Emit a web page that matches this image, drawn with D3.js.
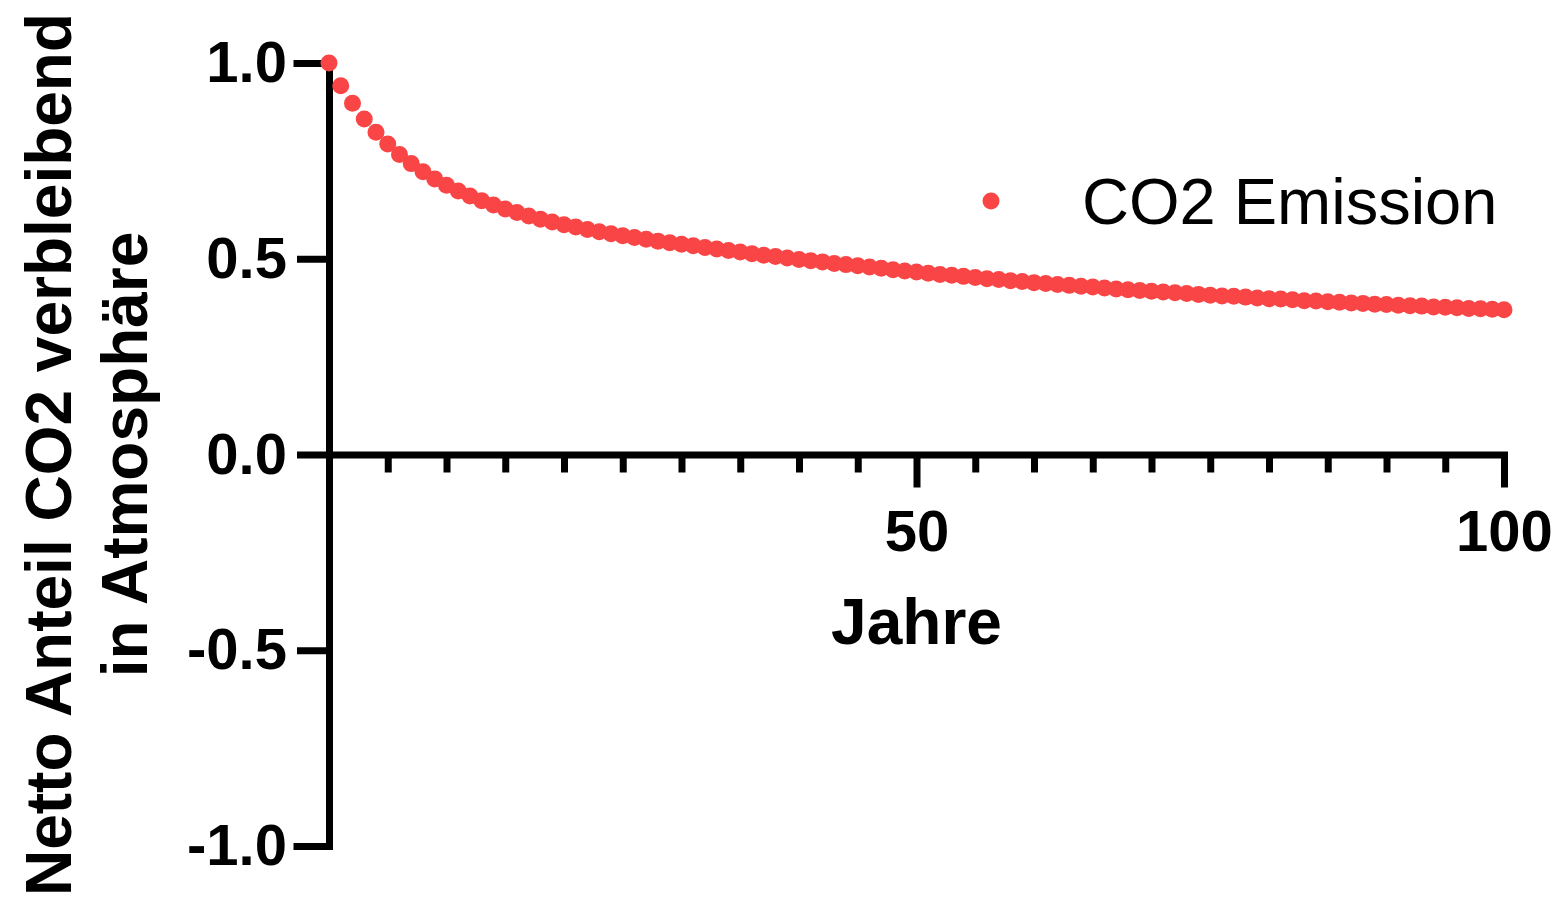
<!DOCTYPE html>
<html>
<head>
<meta charset="utf-8">
<script src="https://cdn.jsdelivr.net/npm/d3@7"></script>
<style>
  body { margin: 0; background: #fff; }
  text { font-family: "Liberation Sans", Arial, sans-serif; }
</style>
</head>
<body>
<div id="chart"></div>
<script>
// years 0..100 and the fraction of CO2 still in the atmosphere
const years = d3.range(0, 101);
const fraction = [
  1.000, 0.942, 0.897, 0.857, 0.823, 0.793, 0.766, 0.743, 0.722, 0.704,
  0.688, 0.673, 0.660, 0.648, 0.637, 0.627, 0.618, 0.609, 0.601, 0.594,
  0.587, 0.581, 0.575, 0.569, 0.564, 0.559, 0.554, 0.550, 0.545, 0.541,
  0.537, 0.533, 0.529, 0.525, 0.521, 0.517, 0.513, 0.509, 0.506, 0.502,
  0.498, 0.495, 0.492, 0.488, 0.485, 0.482, 0.479, 0.476, 0.472, 0.469,
  0.466, 0.463, 0.460, 0.458, 0.455, 0.452, 0.449, 0.447, 0.444, 0.442,
  0.439, 0.437, 0.434, 0.432, 0.430, 0.428, 0.425, 0.423, 0.421, 0.419,
  0.417, 0.415, 0.413, 0.411, 0.409, 0.407, 0.405, 0.404, 0.402, 0.400,
  0.398, 0.397, 0.395, 0.393, 0.392, 0.390, 0.389, 0.387, 0.386, 0.384,
  0.383, 0.381, 0.380, 0.379, 0.377, 0.376, 0.375, 0.373, 0.372, 0.371,
  0.370
];
const xTicks = d3.range(5, 101, 5);
const xLabeled = [50, 100];
const yTicks = [-1, -0.5, 0, 0.5, 1];
const seriesName = "CO2 Emission";
const xTitle = "Jahre";
const yTitle = ["Netto Anteil CO2 verbleibend", "in Atmosphäre"];

const data = years.map((t, i) => ({ t: t, v: fraction[i] }));

const W = 1568, H = 901;
const dotColor = "#F94545";
const axisWidth = 7;

const svg = d3.select("#chart")
  .append("svg")
  .attr("width", W)
  .attr("height", H);

const xScale = d3.scaleLinear().domain([0, 100]).range([329, 1504]);
const yScale = d3.scaleLinear().domain([-1, 1]).range([846, 63]);

// x axis sits on y = 0
const xAxis = svg.append("g")
  .attr("transform", `translate(0,${yScale(0)})`)
  .call(d3.axisBottom(xScale)
    .tickValues(xTicks)
    .tickSizeOuter(0)
    .tickSize(18)
    .tickFormat(d => xLabeled.includes(d) ? d : ""));

xAxis.selectAll(".tick line")
  .attr("y2", d => xLabeled.includes(d) ? 33 : 18);

xAxis.selectAll(".tick text")
  .attr("y", 55)
  .style("font-size", "58px")
  .style("font-weight", "bold");

// y axis
const yAxis = svg.append("g")
  .attr("transform", `translate(${xScale(0)},0)`)
  .call(d3.axisLeft(yScale)
    .tickValues(yTicks)
    .tickSizeOuter(0)
    .tickSize(32)
    .tickPadding(10)
    .tickFormat(d => d.toFixed(1)));

yAxis.selectAll(".tick text")
  .style("font-size", "58px")
  .style("font-weight", "bold");

svg.selectAll(".domain")
  .attr("stroke", "#000")
  .attr("stroke-width", axisWidth)
  .attr("stroke-linecap", "square");

svg.selectAll(".tick line")
  .attr("stroke", "#000")
  .attr("stroke-width", axisWidth);

svg.selectAll(".tick text").attr("fill", "#000");

// points
svg.selectAll(".dot")
  .data(data)
  .enter().append("circle")
  .attr("class", "dot")
  .attr("cx", d => xScale(d.t))
  .attr("cy", d => yScale(d.v))
  .attr("r", 8.5)
  .attr("fill", dotColor);

// axis titles
svg.append("text")
  .attr("x", xScale(50))
  .attr("y", 644)
  .attr("text-anchor", "middle")
  .style("font-size", "64px")
  .style("font-weight", "bold")
  .text(xTitle);

svg.selectAll(".y-title")
  .data(yTitle)
  .enter().append("text")
  .attr("class", "y-title")
  .attr("text-anchor", "middle")
  .attr("transform", (d, i) => `translate(${i === 0 ? 71 : 147},${(yScale(1) + yScale(-1)) / 2}) rotate(-90)`)
  .style("font-size", "64px")
  .style("font-weight", "bold")
  .text(d => d);

// legend
svg.append("circle")
  .attr("cx", 991)
  .attr("cy", 201)
  .attr("r", 8.5)
  .attr("fill", dotColor);

svg.append("text")
  .attr("x", 1082)
  .attr("y", 224)
  .style("font-size", "65px")
  .text(seriesName);
</script>
</body>
</html>
